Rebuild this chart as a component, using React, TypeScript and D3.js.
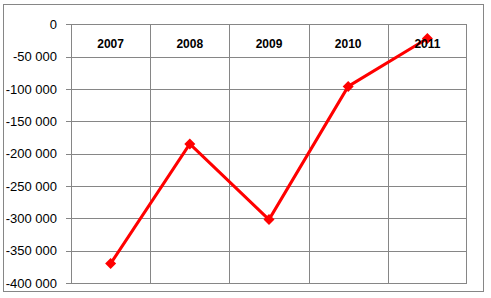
import React from "react";
import * as d3 from "d3";

const years = ["2007", "2008", "2009", "2010", "2011"];
const values = [-370000, -185000, -302000, -96000, -22000];
const yTicks = [0, -50000, -100000, -150000, -200000, -250000, -300000, -350000, -400000];

const W = 491;
const H = 298;
const plot = { left: 71, right: 467, top: 24.3, bottom: 283 };

export default function App() {
  const x = d3.scaleBand<string>().domain(years).range([plot.left, plot.right]);
  const y = d3.scaleLinear().domain([0, -400000]).range([plot.top, plot.bottom]);
  const fmt = (v: number) => {
    if (v === 0) return "0";
    const s = d3.format(",")(Math.abs(v)).replace(/,/g, " ");
    return "-" + s;
  };
  const line = d3
    .line<number>()
    .x((_, i) => (x(years[i]) as number) + x.bandwidth() / 2)
    .y((d) => y(d));
  const grid = "#868686";
  const r = 5.5;
  return (
    <svg
      width={W}
      height={H}
      style={{ position: "absolute", left: 0, top: 0, background: "#fff" }}
      fontFamily="'Liberation Sans', Arial, sans-serif"
    >
      <rect x={3.5} y={4.5} width={480} height={287} fill="#fff" stroke={grid} strokeWidth={1} />
      {yTicks.map((t) => (
        <g key={t}>
          <line x1={plot.left - 5} x2={plot.right} y1={Math.round(y(t)) + 0.5} y2={Math.round(y(t)) + 0.5} stroke={grid} strokeWidth={1} />
          <text x={57} y={y(t)} dy="0.36em" textAnchor="end" fontSize={13} fill="#000">
            {fmt(t)}
          </text>
        </g>
      ))}
      {years.map((yr) => (
        <line key={yr} x1={Math.round(x(yr) as number) + 0.5} x2={Math.round(x(yr) as number) + 0.5} y1={plot.top} y2={plot.bottom} stroke={grid} strokeWidth={1} />
      ))}
      <line x1={plot.right - 0.5} x2={plot.right - 0.5} y1={plot.top} y2={plot.bottom} stroke={grid} strokeWidth={1} />
      <path d={line(values) || ""} fill="none" stroke="#ff0000" strokeWidth={3} strokeLinejoin="round" />
      {values.map((v, i) => {
        const cx = (x(years[i]) as number) + x.bandwidth() / 2;
        const cy = y(v);
        return (
          <path key={i} d={`M${cx},${cy - r}L${cx + r},${cy}L${cx},${cy + r}L${cx - r},${cy}Z`} fill="#ff0000" />
        );
      })}
      {years.map((yr) => (
        <text key={yr} x={(x(yr) as number) + x.bandwidth() / 2} y={47.7} textAnchor="middle" fontSize={12} fontWeight="bold" fill="#000">
          {yr}
        </text>
      ))}
    </svg>
  );
}
